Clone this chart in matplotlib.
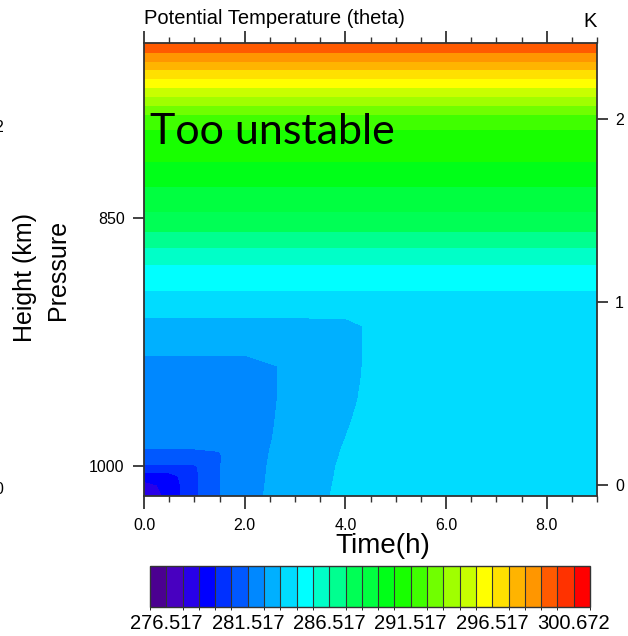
import numpy as np
import matplotlib
matplotlib.use("Agg")
import matplotlib.pyplot as plt
from matplotlib.colors import ListedColormap, BoundaryNorm

# ---------------- data ----------------
time_h = [0.0, 0.5, 1.0, 1.5, 2.0, 3.0, 4.0, 5.0, 6.0, 7.0, 8.0, 9.0]

# lower layer: varies with time (rows = heights, cols = time_h)
low_height_km = [-0.06, 0.0, 0.05, 0.10, 0.15, 0.20, 0.25, 0.35, 0.46, 0.57,
                 0.65, 0.72, 0.87, 0.93, 1.00, 1.05]
low_theta = [
    [277.4, 278.9, 280.3, 281.5, 282.1, 283.23, 283.64, 284.0, 284.05, 284.1, 284.1, 284.1],
    [278.1, 278.9, 280.3, 281.5, 282.1, 283.14, 283.65, 284.0, 284.05, 284.1, 284.1, 284.1],
    [279.1, 279.1, 280.3, 281.5, 282.1, 283.09, 283.64, 284.0, 284.05, 284.1, 284.1, 284.1],
    [280.4, 280.4, 280.4, 281.5, 282.1, 283.05, 283.63, 284.0, 284.05, 284.1, 284.1, 284.1],
    [281.0, 281.0, 281.0, 281.45, 282.1, 282.99, 283.6, 283.98, 284.05, 284.1, 284.1, 284.1],
    [281.55, 281.55, 281.55, 281.55, 282.0, 283.03, 283.56, 283.95, 284.0, 284.05, 284.1, 284.1],
    [281.6, 281.6, 281.6, 281.6, 281.95, 282.98, 283.52, 283.9, 284.0, 284.05, 284.1, 284.1],
    [281.7, 281.7, 281.7, 281.7, 281.9, 282.93, 283.47, 283.85, 284.0, 284.05, 284.1, 284.1],
    [281.8, 281.8, 281.8, 281.8, 281.9, 282.86, 283.41, 283.85, 284.0, 284.05, 284.1, 284.1],
    [281.9, 281.9, 281.9, 281.9, 281.9, 282.84, 283.37, 283.85, 284.0, 284.05, 284.1, 284.1],
    [282.0, 282.0, 282.0, 282.0, 282.0, 282.8, 283.35, 283.85, 284.0, 284.05, 284.1, 284.1],
    [282.6, 282.6, 282.6, 282.6, 282.6, 282.8, 283.35, 283.85, 284.0, 284.05, 284.1, 284.1],
    [283.3, 283.3, 283.3, 283.3, 283.3, 283.3, 283.35, 283.85, 284.0, 284.05, 284.1, 284.1],
    [283.6, 283.6, 283.6, 283.6, 283.6, 283.6, 283.6, 283.85, 284.0, 284.05, 284.1, 284.1],
    [284.2, 284.2, 284.2, 284.2, 284.2, 284.2, 284.2, 284.2, 284.2, 284.2, 284.2, 284.2],
    [284.45, 284.45, 284.45, 284.45, 284.45, 284.45, 284.45, 284.45, 284.45, 284.45, 284.45, 284.45],
]

# upper layer: constant in time (profile)
upper_height_km = [1.10, 1.20, 1.30, 1.40, 1.50, 1.60, 1.70, 1.80, 1.90, 2.00,
                   2.05, 2.10, 2.15, 2.20, 2.25, 2.30, 2.35, 2.40, 2.42]
upper_theta = [284.75, 285.5, 286.55, 287.7, 288.6, 289.3, 290.1, 290.75, 291.1, 292.1,
               293.0, 294.1, 295.1, 296.15, 297.2, 298.25, 299.3, 300.3, 300.6]

# contour levels (box edges) and colours of the label bar
levels = [275.517, 276.517, 277.517, 278.517, 279.517, 280.517, 281.517, 282.517,
          283.517, 284.517, 285.517, 286.517, 287.517, 288.517, 289.517, 290.517,
          291.517, 292.517, 293.517, 294.517, 295.517, 296.517, 297.517, 298.517,
          299.517, 300.517, 301.517, 302.517]
box_colors = ["#4B0090", "#4800C0", "#2800E8", "#0000FF", "#0030FF", "#0058FF",
              "#0088FF", "#00B0FF", "#00DCFF", "#00FFFF", "#00FFC8", "#00FF90",
              "#00FF55", "#00FF40", "#00FF18", "#18FF00", "#40FF00", "#70FF00",
              "#A0FF00", "#C8FF00", "#FFFF00", "#FFE000", "#FFB400", "#FF9600",
              "#FF5A00", "#FF3200", "#FF0000"]
cbar_labels = ["276.517", "281.517", "286.517", "291.517", "296.517", "300.672"]
x_ticks = [0.0, 2.0, 4.0, 6.0, 8.0]
x_ticklabels = ["0.0", "2.0", "4.0", "6.0", "8.0"]
p_ticks = [850, 1000]
z_ticks = [0, 1, 2]

# ---------------- build grid ----------------
t = np.array(time_h)
z = np.array(low_height_km + upper_height_km)
theta = np.vstack([np.array(low_theta),
                   np.tile(np.array(upper_theta)[:, None], (1, len(time_h)))])

plt.rcParams['font.family'] = ['Liberation Sans', 'DejaVu Sans']

fig = plt.figure(figsize=(6.28, 6.36), dpi=100)
ax = fig.add_axes([144/628, 1-496/636, 453/628, 453/636])

cmap = ListedColormap(box_colors)
norm = BoundaryNorm(levels, cmap.N)
cf = ax.contourf(t, z, theta, levels=levels, cmap=cmap, norm=norm)

ax.set_xlim(0, 9)
ax.set_ylim(-0.06, 2.415)

edge = "#333333"
for s in ax.spines.values():
    s.set_linewidth(1.3)
    s.set_color(edge)

# x axis (bottom labelled, top ticks only)
ax.set_xticks(x_ticks)
ax.set_xticklabels(x_ticklabels)
ax.set_xticks(np.arange(0, 9.01, 0.5), minor=True)
ax.tick_params(axis='x', which='major', direction='out', length=9, width=1.3,
               top=True, labeltop=False, labelsize=11.5, pad=7, color=edge)
ax.tick_params(axis='x', which='minor', direction='out', length=4.5, width=1.0,
               top=True, color=edge)

# right axis: height km
ax.yaxis.tick_right()
ax.set_yticks(z_ticks)
ax.set_yticklabels([str(v) for v in z_ticks])
ax.tick_params(axis='y', which='major', direction='out', length=8, width=1.3,
               labelsize=11.5, pad=5, color=edge, left=False, right=True)

# left axis: pressure (hypsometric conversion)
H = 8.33
p0 = 1012.6
def z2p(zz):
    return p0 * np.exp(-np.asarray(zz) / H)
def p2z(pp):
    return H * np.log(p0 / np.asarray(pp))
sec = ax.secondary_yaxis('left', functions=(z2p, p2z))
sec.set_yticks(p_ticks)
sec.set_yticklabels([str(v) for v in p_ticks])
sec.tick_params(direction='out', length=8, width=1.3, labelsize=11.5, pad=6, color=edge)
sec.yaxis.set_minor_locator(matplotlib.ticker.NullLocator())
sec.spines['left'].set_visible(False)

# labels
fig.text(25/628, 1-277/636, "Height (km)", rotation=90, ha='center', va='center', fontsize=18)
fig.text(58/628, 1-270/636, "Pressure", rotation=90, ha='center', va='center', fontsize=18)
fig.text(383/628, 1-546/636, "Time(h)", ha='center', va='center', fontsize=20)
fig.text(144/628, 1-24/636, "Potential Temperature (theta)", ha='left', va='baseline', fontsize=14.5)
fig.text(597/628, 1-27/636, "K", ha='right', va='baseline', fontsize=14.5)

# cut-off labels of a neighbouring panel at the left edge
fig.text(-6/628, 1-128/636, "2", ha='left', va='center', fontsize=11.5)
fig.text(-6/628, 1-490/636, "0", ha='left', va='center', fontsize=11.5)

ax.text(6/453, (496-144)/453, "Too unstable", transform=ax.transAxes,
        ha='left', va='baseline', fontsize=31, family=['Lato', 'DejaVu Sans'])

# label bar
cax = fig.add_axes([150/628, 1-607/636, 440/628, 41/636])
cb = fig.colorbar(cf, cax=cax, orientation='horizontal', drawedges=True)
cb.set_ticks([levels[1], levels[6], levels[11], levels[16], levels[21], levels[26]])
cb.set_ticklabels(cbar_labels)
cb.ax.tick_params(length=0, labelsize=14.5, pad=5)
cb.outline.set_linewidth(1.0)
cb.outline.set_color(edge)
cb.dividers.set_color(edge)
cb.dividers.set_linewidth(0.8)

fig.savefig("out.png", dpi=100)
